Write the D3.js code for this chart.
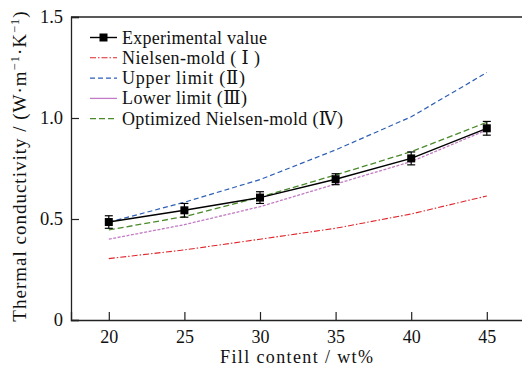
<!DOCTYPE html>
<html><head><meta charset="utf-8">
<script src="https://cdn.jsdelivr.net/npm/d3@7"></script>
<style>body{margin:0;background:#fff}svg{display:block}</style>
</head><body><svg id="c" width="522" height="367"></svg>
<script>
const xValues = [20, 25, 30, 35, 40, 45];
const experimental = [0.485, 0.543, 0.606, 0.697, 0.800, 0.949];
const experimentalErr = [0.031, 0.034, 0.029, 0.027, 0.032, 0.034];
const nielsen = [0.304, 0.347, 0.400, 0.454, 0.525, 0.614];
const upperLimit = [0.484, 0.583, 0.695, 0.842, 1.006, 1.225];
const lowerLimit = [0.400, 0.472, 0.561, 0.673, 0.784, 0.941];
const optimized = [0.446, 0.512, 0.608, 0.718, 0.833, 0.979];
const xTicks = [20, 25, 30, 35, 40, 45];
const yTicks = [0, 0.5, 1.0, 1.5];
const yTickLabels = ["0", "0.5", "1.0", "1.5"];
const legendLabels = ["Experimental value", "Nielsen-mold ( Ⅰ )", "Upper limit (Ⅱ)", "Lower limit (Ⅲ)", "Optimized Nielsen-mold (Ⅳ)"];

const FONT = "'Liberation Serif', 'Times New Roman', Times, 'DejaVu Serif', serif";
const svg = d3.select("#c");
const L = 71, T = 17, B = 320;
const x = d3.scaleLinear().domain([17.5, 48.5]).range([L, L + (48.5 - 17.5) * 75.6 / 5]);
const y = d3.scaleLinear().domain([0, 1.5]).range([B, T]);

svg.append("line").attr("x1", L).attr("x2", 522).attr("y1", T).attr("y2", T).attr("stroke", "#222").attr("stroke-width", 1.3);

const xAxis = d3.axisBottom(x).tickValues(xTicks).tickSize(-8).tickPadding(10).tickFormat(d3.format("d"));
const gx = svg.append("g").attr("transform", `translate(0,${B})`).call(xAxis).attr("font-family", FONT);
gx.select(".domain").attr("stroke", "#222").attr("stroke-width", 1.3);
gx.selectAll(".tick line").attr("stroke", "#222").attr("stroke-width", 1.2);
gx.selectAll("text").attr("font-size", 18).attr("fill", "#111").style("font-family", FONT);

const yAxis = d3.axisLeft(y).tickValues(yTicks).tickSize(-8).tickPadding(8).tickFormat((d, i) => yTickLabels[i]);
const gy = svg.append("g").attr("transform", `translate(${L},0)`).call(yAxis).attr("font-family", FONT);
gy.select(".domain").attr("stroke", "#222").attr("stroke-width", 1.3);
gy.selectAll(".tick line").attr("stroke", "#222").attr("stroke-width", 1.2);
gy.selectAll("text").attr("font-size", 18.5).attr("fill", "#111").style("font-family", FONT);

svg.append("text").attr("x", 220).attr("y", 363).attr("font-size", 18)
  .attr("textLength", 153).attr("lengthAdjust", "spacing")
  .style("font-family", FONT).attr("fill", "#111").text("Fill content / wt%");

const yt = svg.append("text").attr("transform", "translate(26,166) rotate(-90)").attr("text-anchor", "middle")
  .attr("font-size", 19).style("font-family", FONT).style("letter-spacing", "1px").attr("fill", "#111");
yt.append("tspan").text("Thermal conductivity / (W·m");
yt.append("tspan").attr("dy", -7).attr("font-size", 12.5).text("−1");
yt.append("tspan").attr("dy", 7).text("·K");
yt.append("tspan").attr("dy", -7).attr("font-size", 12.5).text("−1");
yt.append("tspan").attr("dy", 7).text(")");

const line = d3.line().x((d, i) => x(xValues[i])).y(d => y(d));
const series = [
  {data: nielsen, color: "#e0262b", dash: "6,2,1.5,2", w: 1.1},
  {data: upperLimit, color: "#2d5fb5", dash: "5,3", w: 1.2},
  {data: lowerLimit, color: "#c27bc4", dash: "3,1.5", w: 1.3},
  {data: optimized, color: "#4a8a2a", dash: "6,3", w: 1.3},
];
series.forEach(s => {
  svg.append("path").attr("d", line(s.data)).attr("fill", "none").attr("stroke", s.color)
    .attr("stroke-width", s.w).attr("stroke-dasharray", s.dash);
});
svg.append("path").attr("d", line(experimental)).attr("fill", "none").attr("stroke", "#000").attr("stroke-width", 1.4);
const eb = svg.append("g");
experimental.forEach((v, i) => {
  const cx = x(xValues[i]);
  const y1 = y(v - experimentalErr[i]), y2 = y(v + experimentalErr[i]);
  eb.append("line").attr("x1", cx).attr("x2", cx).attr("y1", y1).attr("y2", y2).attr("stroke", "#000").attr("stroke-width", 1.2);
  [y1, y2].forEach(yy => eb.append("line").attr("x1", cx - 4).attr("x2", cx + 4).attr("y1", yy).attr("y2", yy).attr("stroke", "#000").attr("stroke-width", 1.2));
  eb.append("rect").attr("x", cx - 4).attr("y", y(v) - 4).attr("width", 8).attr("height", 8).attr("fill", "#000");
});

const legendStyles = [
  {color: "#000", dash: null, w: 1.4, marker: true},
  {color: "#e0262b", dash: "6,2,1.5,2", w: 1.1},
  {color: "#2d5fb5", dash: "5,3", w: 1.2},
  {color: "#c27bc4", dash: null, w: 1.3},
  {color: "#4a8a2a", dash: "6,3", w: 1.3},
];
const legendWidths = [145, 138, 123, 125, 221];
const lg = svg.append("g");
legendLabels.forEach((lab, i) => {
  const yy = 37.5 + i * 20.3;
  const st = legendStyles[i];
  const ln = lg.append("line").attr("x1", 90).attr("x2", 117).attr("y1", yy).attr("y2", yy)
    .attr("stroke", st.color).attr("stroke-width", st.w);
  if (st.dash) ln.attr("stroke-dasharray", st.dash);
  if (st.marker) lg.append("rect").attr("x", 99.5).attr("y", yy - 4).attr("width", 8).attr("height", 8).attr("fill", "#000");
  lg.append("text").attr("x", 122).attr("y", yy + 6).attr("font-size", 18)
    .attr("textLength", legendWidths[i]).attr("lengthAdjust", "spacing")
    .style("font-family", FONT).attr("fill", "#111").text(lab);
});
</script></body></html>
